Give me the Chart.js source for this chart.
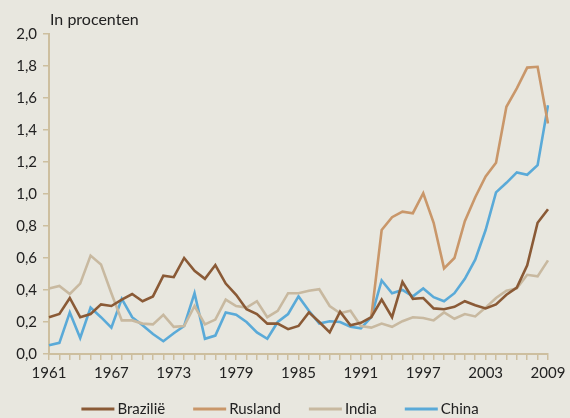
<!DOCTYPE html>
<html>
<head>
<meta charset="utf-8">
<script src="https://cdn.jsdelivr.net/npm/chart.js@4/dist/chart.umd.min.js"></script>
<style>
html,body{margin:0;padding:0;background:#e8e7df;}
#wrap{width:570px;height:418px;position:relative;}
</style>
</head>
<body>
<div id="wrap"><canvas id="c" width="570" height="418"></canvas></div>
<script>
const years = [];
for (let y = 1961; y <= 2009; y++) years.push(String(y));
const tickYears = ["1961","1967","1973","1979","1985","1991","1997","2003","2009"];
const seriesNames = ["Brazilië","Rusland","India","China"];

const brazil = [0.23,0.25,0.35,0.23,0.25,0.31,0.30,0.34,0.375,0.33,0.36,0.49,0.48,0.60,0.52,0.47,0.556,0.44,0.37,0.28,0.25,0.19,0.19,0.155,0.175,0.26,0.20,0.135,0.265,0.18,0.195,0.23,0.34,0.23,0.45,0.345,0.35,0.285,0.28,0.295,0.33,0.305,0.285,0.31,0.37,0.415,0.555,0.82,0.905];
const russia = [null,null,null,null,null,null,null,null,null,null,null,null,null,null,null,null,null,null,null,null,null,null,null,null,null,null,null,null,null,null,null,0.23,0.775,0.855,0.89,0.88,1.005,0.82,0.535,0.60,0.83,0.98,1.11,1.195,1.545,1.66,1.79,1.795,1.44];
const india = [0.41,0.425,0.375,0.44,0.615,0.56,0.38,0.21,0.21,0.19,0.185,0.245,0.17,0.175,0.30,0.185,0.215,0.34,0.30,0.29,0.33,0.23,0.27,0.38,0.38,0.395,0.405,0.30,0.255,0.27,0.175,0.165,0.19,0.17,0.205,0.23,0.225,0.21,0.26,0.22,0.25,0.235,0.29,0.35,0.395,0.41,0.495,0.485,0.585];
const china = [0.055,0.07,0.26,0.10,0.29,0.23,0.165,0.345,0.23,0.18,0.125,0.08,0.13,0.175,0.38,0.095,0.115,0.26,0.245,0.20,0.135,0.095,0.20,0.25,0.36,0.27,0.19,0.205,0.20,0.17,0.16,0.23,0.46,0.38,0.40,0.36,0.41,0.355,0.33,0.38,0.47,0.59,0.775,1.01,1.07,1.135,1.12,1.18,1.555];

const colors = ["#8a5a36","#c9976a","#c8b9a0","#5aaad8"];
const axisColor = "#cdbf9f";
const fontFamily = "Lato, 'Open Sans', sans-serif";

const titlePlugin = {
  id: 'ytitle',
  afterDraw(chart) {
    const ctx = chart.ctx;
    ctx.save();
    ctx.font = "16px " + fontFamily;
    ctx.fillStyle = "#222";
    ctx.textBaseline = "alphabetic";
    ctx.textAlign = "left";
    ctx.fillText("In procenten", chart.chartArea.left + 1, chart.chartArea.top - 9);
    ctx.restore();
  }
};

const legendPlugin = {
  id: 'lineLegend',
  afterDraw(chart) {
    const ctx = chart.ctx;
    ctx.save();
    ctx.font = "15px " + fontFamily;
    ctx.textBaseline = "middle";
    ctx.textAlign = "left";
    const lineLen = 33, gapLT = 3, gapItem = 28;
    const items = chart.data.datasets.map(d => ({ text: d.label, color: d.borderColor, w: ctx.measureText(d.label).width }));
    const total = items.reduce((s, it) => s + lineLen + gapLT + it.w, 0) + gapItem * (items.length - 1);
    let x = 280 - total / 2;
    const y = chart.height - 9;
    items.forEach(it => {
      ctx.strokeStyle = it.color;
      ctx.lineWidth = 3;
      ctx.beginPath();
      ctx.moveTo(x, y);
      ctx.lineTo(x + lineLen, y);
      ctx.stroke();
      ctx.fillStyle = "#222";
      ctx.fillText(it.text, x + lineLen + gapLT, y);
      x += lineLen + gapLT + it.w + gapItem;
    });
    ctx.restore();
  }
};

const ds = [brazil, russia, india, china].map((d, i) => ({
  label: seriesNames[i],
  data: d,
  borderColor: colors[i],
  backgroundColor: colors[i],
  borderWidth: 2.6,
  pointRadius: 0,
  tension: 0,
  spanGaps: false
}));

new Chart(document.getElementById('c'), {
  type: 'line',
  data: { labels: years, datasets: ds },
  options: {
    responsive: false,
    animation: false,
    layout: { padding: { top: 34, right: 22, left: 0, bottom: 30 } },
    plugins: {
      legend: { display: false },
      tooltip: { enabled: false }
    },
    scales: {
      x: {
        type: 'category',
        offset: false,
        border: { color: axisColor, width: 2 },
        grid: { drawOnChartArea: false, drawTicks: true, tickLength: 6, color: axisColor, lineWidth: 1.5 },
        ticks: {
          autoSkip: false,
          maxRotation: 0,
          font: { family: fontFamily, size: 15 },
          color: "#222",
          padding: 4,
          callback: function(v, i) { const l = years[i]; return tickYears.includes(l) ? l : ''; }
        },
        afterFit: s => { s.height = 34; }
      },
      y: {
        min: 0, max: 2,
        border: { color: axisColor, width: 2 },
        grid: { drawOnChartArea: false, drawTicks: true, tickLength: 6, color: axisColor, lineWidth: 1.5 },
        ticks: {
          stepSize: 0.2,
          font: { family: fontFamily, size: 15 },
          color: "#222",
          padding: 6,
          callback: v => v.toFixed(1).replace('.', ',')
        },
        afterFit: s => { s.width = 49; }
      }
    }
  },
  plugins: [titlePlugin, legendPlugin]
});
</script>
</body>
</html>
